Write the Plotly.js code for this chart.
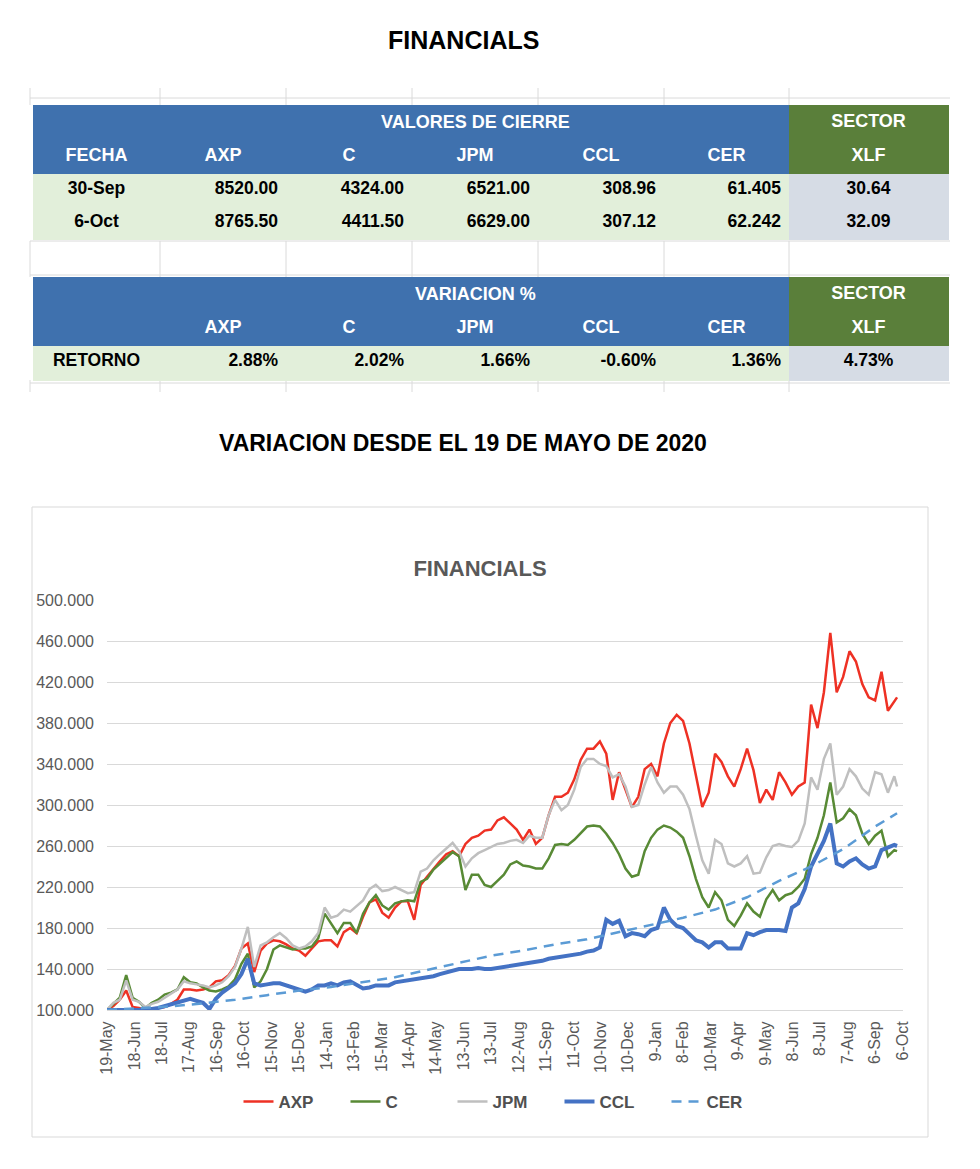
<!DOCTYPE html>
<html>
<head>
<meta charset="utf-8">
<script src="https://cdn.plot.ly/plotly-3.0.1.min.js"></script>
<style>
html,body{margin:0;padding:0;background:#ffffff;}
#chart{width:980px;height:1169px;}
</style>
</head>
<body>
<div id="chart"></div>
<script>
// ---------------- DATA ----------------
// weekly observation dates (19-May-2020 .. 30-Sep-2022)
const dates = [
'2020-05-19','2020-05-26','2020-06-02','2020-06-09','2020-06-16','2020-06-23','2020-06-30',
'2020-07-07','2020-07-14','2020-07-21','2020-07-28','2020-08-04','2020-08-11','2020-08-18','2020-08-25',
'2020-09-01','2020-09-08','2020-09-15','2020-09-22','2020-09-29','2020-10-06','2020-10-13','2020-10-20','2020-10-27',
'2020-11-03','2020-11-10','2020-11-17','2020-11-24','2020-12-01','2020-12-08','2020-12-15','2020-12-22','2020-12-29',
'2021-01-05','2021-01-12','2021-01-19','2021-01-26','2021-02-02','2021-02-09','2021-02-16','2021-02-23',
'2021-03-02','2021-03-09','2021-03-16','2021-03-23','2021-03-30','2021-04-06','2021-04-13','2021-04-20','2021-04-27',
'2021-05-04','2021-05-11','2021-05-18','2021-05-25','2021-06-01','2021-06-08','2021-06-15','2021-06-22','2021-06-29',
'2021-07-06','2021-07-13','2021-07-20','2021-07-27','2021-08-03','2021-08-10','2021-08-17','2021-08-24','2021-08-31',
'2021-09-07','2021-09-14','2021-09-21','2021-09-28','2021-10-05','2021-10-12','2021-10-19','2021-10-26',
'2021-11-02','2021-11-09','2021-11-16','2021-11-23','2021-11-30','2021-12-07','2021-12-14','2021-12-21','2021-12-28',
'2022-01-04','2022-01-11','2022-01-18','2022-01-25','2022-02-01','2022-02-08','2022-02-15','2022-02-22',
'2022-03-01','2022-03-08','2022-03-15','2022-03-22','2022-03-29','2022-04-05','2022-04-12','2022-04-19','2022-04-26',
'2022-05-03','2022-05-10','2022-05-17','2022-05-24','2022-05-31','2022-06-07','2022-06-14','2022-06-21','2022-06-28',
'2022-07-05','2022-07-12','2022-07-19','2022-07-26','2022-08-02','2022-08-09','2022-08-16','2022-08-23','2022-08-30',
'2022-09-06','2022-09-13','2022-09-20','2022-09-27','2022-09-30'
];

const axp = [
100,104,110,119,103,102,100,101,102,103,106,110,120,120,119,120,122,128,129,134,
143,160,165,137,158,165,168,167,164,160,158,153,160,167,168,168,162,176,180,175,
191,205,208,195,190,200,206,206,188,222,230,238,245,252,255,250,262,268,270,275,
276,285,288,282,276,266,276,262,268,290,308,308,312,325,344,355,355,362,350,305,
332,315,298,308,335,340,328,360,380,388,382,360,330,298,312,350,342,328,318,335,
355,334,302,315,305,332,322,310,318,322,398,375,410,468,410,425,450,440,418,405,
402,430,392,402,405
];

const c = [
100,106,112,134,112,108,102,107,110,115,117,120,132,127,126,122,119,118,120,123,
130,145,155,122,128,140,159,163,161,159,160,160,162,170,194,185,175,185,185,175,
194,205,212,202,198,204,206,207,206,225,228,237,243,249,254,250,217,232,232,222,
220,226,232,242,245,241,240,238,238,248,261,262,261,266,272,279,280,279,272,263,
252,238,230,232,255,268,276,280,278,274,268,250,228,210,200,215,207,188,182,192,
204,196,191,208,217,207,212,214,220,228,252,268,290,322,283,287,296,290,272,262,
270,275,250,256,255
];

const jpm = [
100,107,110,129,110,108,103,106,108,112,116,120,128,126,125,124,122,124,127,133,
142,160,181,142,163,166,171,175,170,163,160,162,167,175,200,190,192,198,196,202,
207,218,222,216,217,220,217,214,215,235,238,246,252,258,263,255,240,248,253,256,
259,262,263,265,266,263,270,268,268,290,305,295,300,315,337,345,345,340,338,327,
330,318,298,300,320,337,322,312,318,318,310,296,270,246,233,266,262,243,240,243,
250,233,234,249,260,262,260,259,265,282,327,315,345,360,310,318,335,328,316,310,
332,330,312,328,318
];

const ccl = [
100,100,100,100,100,100,101,101,102,104,105,107,110,111,109,107,101,111,117,121,
126,135,150,126,124,125,126,126,124,122,120,118,120,124,124,126,124,127,128,124,
121,122,124,124,124,127,128,129,130,131,132,133,135,137,138,140,140,140,141,140,
140,141,142,143,144,145,146,147,148,150,151,152,153,154,155,157,158,161,188,184,
187,172,175,174,172,178,180,200,188,182,180,174,168,166,161,166,166,160,160,160,
175,173,176,178,178,178,177,200,204,218,240,252,265,282,243,240,245,248,242,238,
240,256,258,261,260
];

const cerDates = [
'2020-05-19','2020-06-23','2020-07-28','2020-09-01','2020-10-06','2020-11-10','2020-12-15',
'2021-01-19','2021-02-23','2021-03-30','2021-05-04','2021-06-08','2021-07-13','2021-08-17',
'2021-09-21','2021-10-26','2021-11-30','2022-01-04','2022-02-08','2022-03-15','2022-04-19',
'2022-05-24','2022-06-28','2022-08-02','2022-09-06','2022-09-30'
];
const cer = [
100,101.5,103.5,106.5,110,114.5,119,122.5,127,132,139,146,153,158,
164,169,176,183,190,198,210,226,240,257,279,292
];

const seriesNames = ['AXP','C','JPM','CCL','CER'];

// table data
const headCols = ['FECHA','AXP','C','JPM','CCL','CER','XLF'];
const fechas = ['30-Sep','6-Oct'];
const closeAXP = [8520.00, 8765.50];
const closeC = [4324.00, 4411.50];
const closeJPM = [6521.00, 6629.00];
const closeCCL = [308.96, 307.12];
const closeCER = [61.405, 62.242];
const closeXLF = [30.64, 32.09];
const retLabel = ['RETORNO'];
const retAXP = [0.0288];
const retC = [0.0202];
const retJPM = [0.0166];
const retCCL = [-0.0060];
const retCER = [0.0136];
const retXLF = [0.0473];

// --------------- LAYOUT HELPERS ---------------
const W = 980, H = 1169;
const px = v => v / W;
const py = v => 1 - v / H;

const BLUE = '#3F71AE', GREEN = '#5A7F3A', LGREEN = '#E2EFDA', LGRAY = '#D6DCE5';
const FONT = 'Liberation Sans, Arial, sans-serif';

const traces = [
  {x: dates, y: axp, name: seriesNames[0], type: 'scatter', mode: 'lines',
   line: {color: '#EE3124', width: 2.5}},
  {x: dates, y: c, name: seriesNames[1], type: 'scatter', mode: 'lines',
   line: {color: '#588A35', width: 2.5}},
  {x: dates, y: jpm, name: seriesNames[2], type: 'scatter', mode: 'lines',
   line: {color: '#BFBFBF', width: 2.5}},
  {x: dates, y: ccl, name: seriesNames[3], type: 'scatter', mode: 'lines',
   line: {color: '#4472C4', width: 4}},
  {x: cerDates, y: cer, name: seriesNames[4], type: 'scatter', mode: 'lines',
   line: {color: '#5B9BD5', width: 2.5, dash: '10px,7px'}}
];

const colW = [127, 126, 126, 126, 126, 125, 159];
const headFill = [BLUE, BLUE, BLUE, BLUE, BLUE, BLUE, GREEN];
const cellFill = [LGREEN, LGREEN, LGREEN, LGREEN, LGREEN, LGREEN, LGRAY];

traces.push({
  type: 'table',
  domain: {x: [px(33), px(948)], y: [py(246), py(105)]},
  columnwidth: colW,
  header: {
    values: headCols.map((h, i) => [i === 6 ? 'SECTOR' : '', h]),
    fill: {color: headFill},
    line: {color: headFill, width: 1},
    align: 'center',
    height: 34,
    font: {family: FONT, size: 18, color: '#FFFFFF', weight: 700}
  },
  cells: {
    values: [fechas, closeAXP, closeC, closeJPM, closeCCL, closeCER, closeXLF],
    format: ['', '.2f', '.2f', '.2f', '.2f', '.3f', '.2f'],
    align: ['center', 'right', 'right', 'right', 'right', 'right', 'center'],
    fill: {color: cellFill},
    line: {color: cellFill, width: 1},
    height: 33,
    font: {family: FONT, size: 17.5, color: '#000000', weight: 700}
  }
});

traces.push({
  type: 'table',
  domain: {x: [px(33), px(948)], y: [py(386), py(277)]},
  columnwidth: colW,
  header: {
    values: headCols.map((h, i) => [i === 6 ? 'SECTOR' : '', i === 0 ? '' : h]),
    fill: {color: headFill},
    line: {color: headFill, width: 1},
    align: 'center',
    height: 34,
    font: {family: FONT, size: 18, color: '#FFFFFF', weight: 700}
  },
  cells: {
    values: [retLabel, retAXP, retC, retJPM, retCCL, retCER, retXLF],
    format: ['', '.2%', '.2%', '.2%', '.2%', '.2%', '.2%'],
    align: ['center', 'right', 'right', 'right', 'right', 'right', 'center'],
    fill: {color: cellFill},
    line: {color: cellFill, width: 1},
    height: 35,
    font: {family: FONT, size: 17.5, color: '#000000', weight: 700}
  }
});

// sheet grid lines around the table and the chart frame
const shapes = [];
const gl = {color: '#DADADA', width: 1};
[98, 241, 275, 383].forEach(y => shapes.push({type: 'line', xref: 'paper', yref: 'paper',
  x0: px(30), x1: px(950), y0: py(y), y1: py(y), line: gl, layer: 'below'}));
[30, 160, 286, 412, 538, 664, 789].forEach(x => {
  [[88, 105], [241, 277], [380, 392]].forEach(r => shapes.push({type: 'line', xref: 'paper', yref: 'paper',
    x0: px(x), x1: px(x), y0: py(r[0]), y1: py(r[1]), line: gl, layer: 'below'}));
});
shapes.push({type: 'rect', xref: 'paper', yref: 'paper', x0: px(32), x1: px(928), y0: py(507), y1: py(1137),
  line: {color: '#D9D9D9', width: 1}, layer: 'below'});

const annotations = [
  {text: 'FINANCIALS', xref: 'paper', yref: 'paper', x: px(463), y: py(40), showarrow: false,
   xanchor: 'center', yanchor: 'middle', font: {family: FONT, size: 25, color: '#000000', weight: 700}},
  {text: 'VALORES DE CIERRE', xref: 'paper', yref: 'paper', x: px(475), y: py(122), showarrow: false,
   xanchor: 'center', yanchor: 'middle', font: {family: FONT, size: 18, color: '#FFFFFF', weight: 700}},
  {text: 'VARIACION %', xref: 'paper', yref: 'paper', x: px(475), y: py(294), showarrow: false,
   xanchor: 'center', yanchor: 'middle', font: {family: FONT, size: 18, color: '#FFFFFF', weight: 700}},
  {text: 'VARIACION DESDE EL 19 DE MAYO DE 2020', xref: 'paper', yref: 'paper', x: px(463), y: py(443),
   showarrow: false, xanchor: 'center', yanchor: 'middle',
   font: {family: FONT, size: 23, color: '#000000', weight: 700}}
];

const layout = {
  width: W, height: H, autosize: false,
  margin: {l: 0, r: 0, t: 0, b: 0},
  paper_bgcolor: '#FFFFFF', plot_bgcolor: '#FFFFFF',
  font: {family: FONT, color: '#595959'},
  showlegend: true,
  hovermode: false,
  title: {text: 'FINANCIALS', x: px(480), y: py(568), xref: 'container', yref: 'container',
    xanchor: 'center', yanchor: 'middle', font: {family: FONT, size: 22, color: '#595959', weight: 700}},
  xaxis: {
    type: 'date', domain: [px(107), px(903)],
    range: ['2020-05-19', '2022-10-06 12:00'],
    tick0: '2020-05-19', dtick: 30 * 86400000, tickformat: '%-d-%b',
    tickangle: -90, ticks: '', ticklabelstandoff: 4,
    tickfont: {family: FONT, size: 16, color: '#595959'},
    showgrid: false, zeroline: false, showline: true, linecolor: '#D9D9D9', linewidth: 1
  },
  yaxis: {
    domain: [py(1010), py(600)],
    range: [100, 500], tick0: 100, dtick: 40, tickformat: '.3f',
    ticks: '', ticklabelstandoff: 12,
    tickfont: {family: FONT, size: 16, color: '#595959'},
    showgrid: true, gridcolor: '#D9D9D9', gridwidth: 1, zeroline: false, showline: false
  },
  legend: {orientation: 'h', x: px(506), xanchor: 'center', y: py(1102), yanchor: 'middle',
    font: {family: FONT, size: 17, color: '#505050', weight: 700}, bgcolor: 'rgba(0,0,0,0)',
    itemwidth: 30, entrywidth: 62, entrywidthmode: 'pixels', traceorder: 'normal'},
  shapes: shapes,
  annotations: annotations
};

Plotly.newPlot('chart', traces, layout, {staticPlot: true, displayModeBar: false});
</script>
</body>
</html>
